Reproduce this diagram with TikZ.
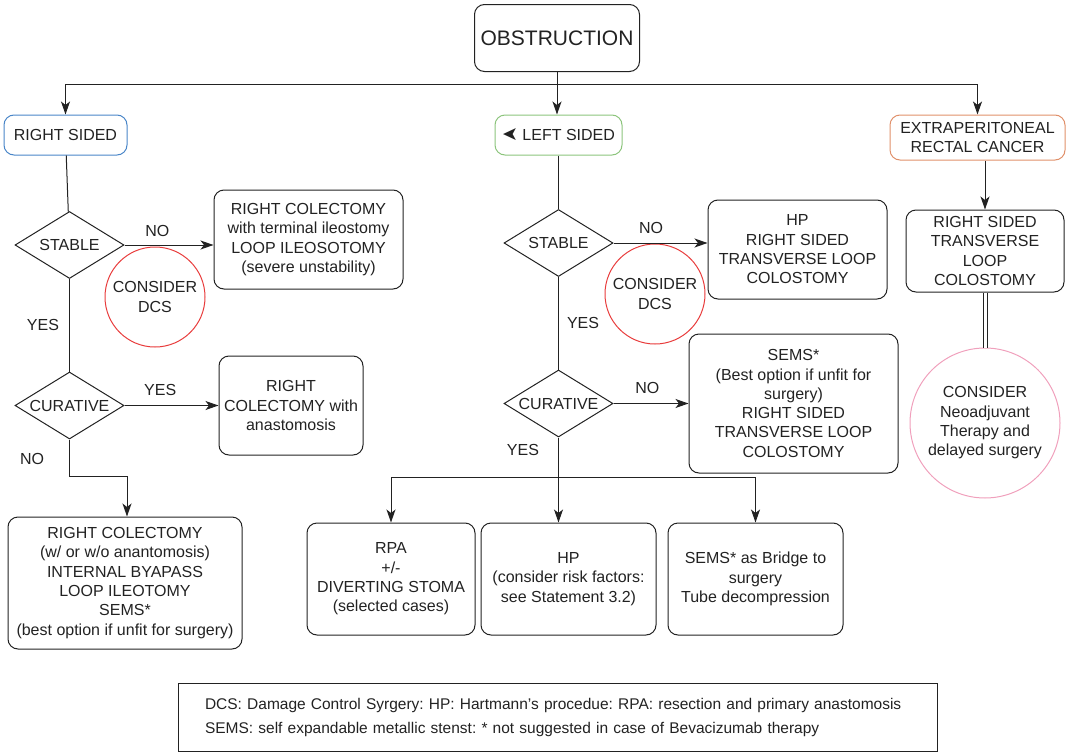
\documentclass[tikz,border=0pt]{standalone}
\usepackage{fontspec}
\setmainfont{Liberation Sans}
\newfontfamily\symfont{DejaVu Sans}
\usetikzlibrary{arrows.meta,shapes.geometric}
\definecolor{ink}{HTML}{222222}
\definecolor{rsblue}{HTML}{4A86C8}
\definecolor{lsgreen}{HTML}{8CC47C}
\definecolor{extorange}{HTML}{E0906A}
\definecolor{dcsred}{HTML}{E83C3C}
\definecolor{neopink}{HTML}{F0A0BC}
\frenchspacing
\begin{document}
\begin{tikzpicture}[x=1pt,y=-1pt,line width=1pt,ink,
  >={Stealth[length=13pt,width=9pt,inset=3.5pt]}]

        \useasboundingbox (0,0) rectangle (1069,755);

        \begin{scope}[every node/.style={draw,rounded corners=10pt,align=center,inner sep=2pt,
            font=\fontsize{16}{19.3}\selectfont}]
          \node[minimum width=165pt,minimum height=67pt,font=\fontsize{21}{24}\selectfont] (obs) at (557,38) {OBSTRUCTION};
          \node[draw=rsblue,minimum width=123pt,minimum height=40pt] (rs) at (65.5,135) {RIGHT SIDED};
          \node[draw=lsgreen,minimum width=127pt,minimum height=40pt] (ls) at (558.5,135)
            {{\symfont\fontsize{19}{19}\selectfont\scalebox{-1}[1]{➤}}\ LEFT SIDED};
          \node[draw=extorange,minimum width=175pt,minimum height=45pt] (ext) at (977.5,137.5)
            {EXTRAPERITONEAL\\RECTAL CANCER};
          \node[minimum width=158pt,minimum height=82pt] (rst) at (985,251)
            {RIGHT SIDED\\TRANSVERSE\\LOOP\\COLOSTOMY};
          % right sided
          \node[minimum width=189pt,minimum height=99pt] (rc1) at (308.5,239.5)
            {RIGHT COLECTOMY\\with terminal ileostomy\\LOOP ILEOSOTOMY\\(severe unstability)};
          \node[minimum width=144pt,minimum height=99pt] (rc2) at (291,405.5)
            {RIGHT\\COLECTOMY with\\anastomosis};
          \node[minimum width=234pt,minimum height=132pt] (rc3) at (125,583)
            {RIGHT COLECTOMY\\(w/ or w/o anantomosis)\\INTERNAL BYAPASS\\LOOP ILEOTOMY\\SEMS*\\(best option if unfit for surgery)};
          % left sided
          \node[minimum width=179pt,minimum height=99pt] (hp1) at (797.5,249.5)
            {HP\\RIGHT SIDED\\TRANSVERSE LOOP\\COLOSTOMY};
          \node[minimum width=209pt,minimum height=139pt] (sems1) at (793.5,403.5)
            {SEMS*\\(Best option if unfit for\\surgery)\\RIGHT SIDED\\TRANSVERSE LOOP\\COLOSTOMY};
          \node[minimum width=168pt,minimum height=112pt] (rpa) at (391,579)
            {RPA\\+/-\\DIVERTING STOMA\\(selected cases)};
          \node[minimum width=175pt,minimum height=112pt] (hp2) at (568.5,579)
            {HP\\(consider risk factors:\\see Statement 3.2)};
          \node[minimum width=175pt,minimum height=112pt] (sems2) at (755.5,579)
            {SEMS* as Bridge to\\surgery\\Tube decompression};
        \end{scope}

        \begin{scope}[every node/.style={draw,diamond,aspect=1.6,inner sep=0pt,
            minimum width=109pt,minimum height=67pt,font=\fontsize{16}{19.3}\selectfont}]
          \node (st1) at (69.5,245) {STABLE};
          \node (cu1) at (69.5,405.5) {CURATIVE};
          \node (st2) at (558.5,243) {STABLE};
          \node (cu2) at (558.5,403.5) {CURATIVE};
        \end{scope}

        \begin{scope}[every node/.style={draw,circle,align=center,inner sep=0pt,
            font=\fontsize{16}{19.3}\selectfont}]
          \node[draw=dcsred,minimum size=100pt] (dcs1) at (155,297) {CONSIDER\\DCS};
          \node[draw=dcsred,minimum size=100pt] (dcs2) at (655,294) {CONSIDER\\DCS};
          \node[draw=neopink,minimum size=150pt] (neo) at (985,423)
            {CONSIDER\\Neoadjuvant\\Therapy and\\delayed surgery};
        \end{scope}

        \node[draw,minimum width=759pt,minimum height=68pt,text width=705pt,align=left,
          inner xsep=27pt,font=\fontsize{15.5}{24}\selectfont] (leg) at (557.5,717)
          {DCS: Damage Control Syrgery: HP: Hartmann’s procedue: RPA: resection and primary anastomosis\\
           SEMS: self expandable metallic stenst: * not suggested in case of Bevacizumab therapy};

        \coordinate (c0) at (557,84);
        \coordinate (c1) at (127,476);
        \coordinate (c2) at (558.5,477);

        \begin{scope}[every node/.style={inner sep=0pt,font=\fontsize{16}{19.3}\selectfont}]
          \draw (obs) -- (c0);
          \draw[->] (c0) -| (rs);
          \draw[->] (c0) -- (c0 |- ls.north);
          \draw[->] (c0) -| (ext);
          \draw[->] (ext.south -| rst) -- (rst);
          \draw[double,double distance=3pt] (rst) -- (neo);

          \draw (rs) -- (st1);
          \draw[->] (st1) -- (st1 -| rc1.west) node[pos=.37,above=8pt] (no1) {NO};
          \draw (st1) -- (cu1) node[midway,left=10pt] (yes1) {YES};
          \draw[->] (cu1) -- (cu1 -| rc2.west) node[pos=.38,above=9pt] (yes2) {YES};
          \draw[->] (cu1) |- (c1) -- (c1 |- rc3.north);
          \node (no2) at (32,459) {NO};

          \draw (ls) -- (st2);
          \draw[->] (st2) -- (st2 -| hp1.west) node[pos=.4,above=9pt] (no3) {NO};
          \draw (st2) -- (cu2) node[midway,right=8pt] (yes3) {YES};
          \draw[->] (cu2) -- (cu2 -| sems1.west) node[pos=.45,above=9pt] (no4) {NO};
          \draw (cu2) -- (c2);
          \draw[->] (c2) -| (rpa);
          \draw[->] (c2) -- (c2 |- hp2.north);
          \draw[->] (c2) -| (sems2);
          \node (yes4) at (523,450) {YES};
        \end{scope}

      \end{tikzpicture}
\end{document}
